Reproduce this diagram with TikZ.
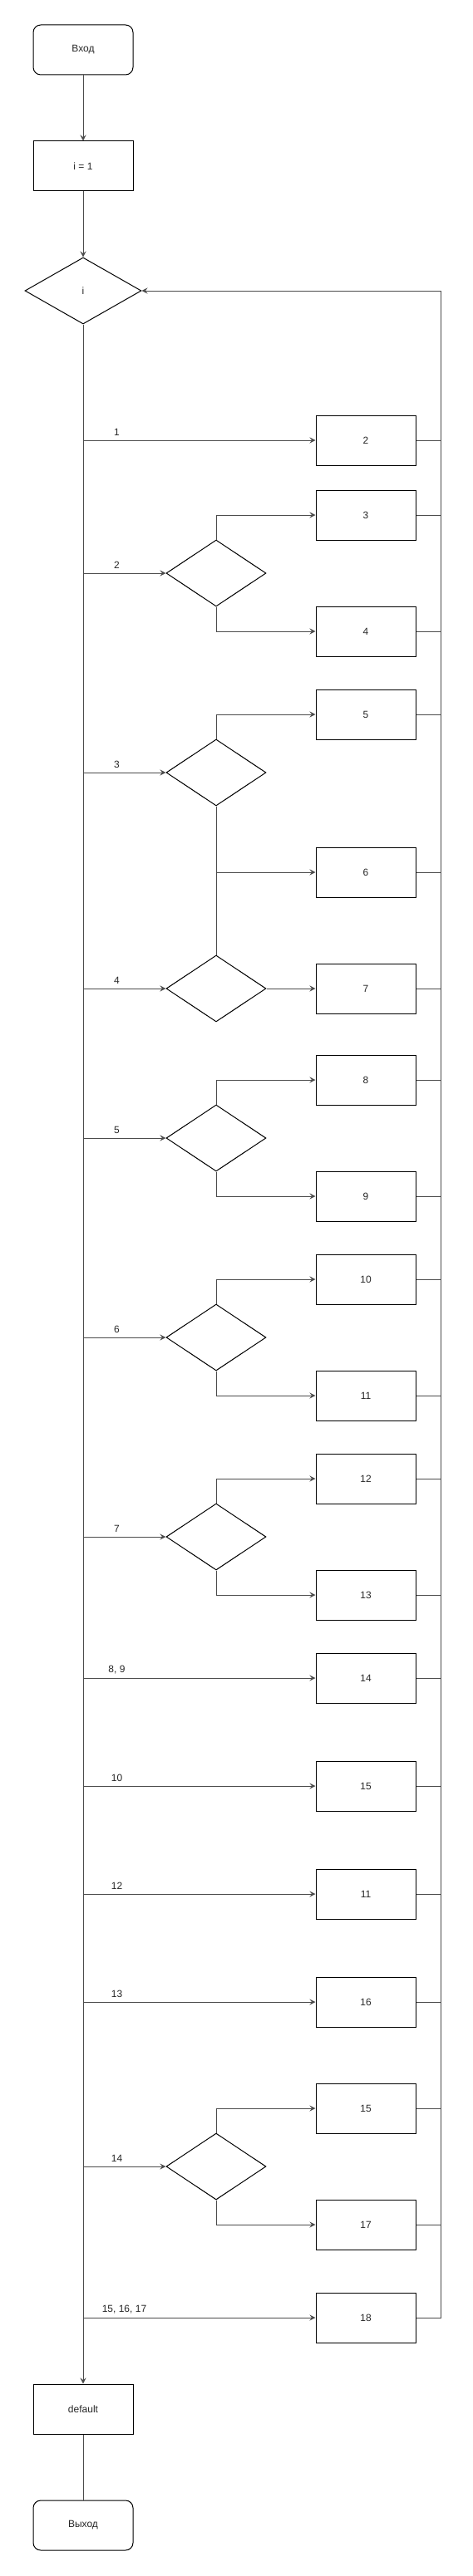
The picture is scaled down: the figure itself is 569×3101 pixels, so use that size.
\documentclass[tikz,border=0pt]{standalone}
\usepackage{fontspec}
\setmainfont{Liberation Sans}
\usetikzlibrary{arrows.meta,shapes.geometric}
\tikzset{
  txt/.style={font=\fontsize{12}{14}\selectfont, text=black!85},
  box/.style={txt, draw=black, line width=1pt, rectangle, minimum width=120pt, minimum height=60pt, inner sep=0pt},
  term/.style={box, rounded corners=9pt},
  dia/.style={txt, draw=black, line width=1pt, diamond, minimum width=120pt, minimum height=80pt, inner sep=0pt},
  edge/.style={line width=1pt, draw=black!70, -{Stealth[length=7pt,width=7pt,inset=2.5pt]}},
  link/.style={line width=1pt, draw=black!70},
  lbl/.style={txt, inner sep=0pt, anchor=center, yshift=10pt, xshift=40.5pt}
}
\begin{document}
\begin{tikzpicture}[x=1pt,y=-1pt]
\useasboundingbox (0,0) rectangle (569,3101);
% left column
\node[term] (in) at (100,60) {Вход};
\node[box] (i1) at (100,200) {i = 1};
\node[dia, minimum width=140pt] (d0) at (100,350) {i};
\node[box] (def) at (100,2900) {default};
\node[term] (out) at (100,3040) {Выход};
\coordinate (mx) at (100,0);
\coordinate (rx) at (530.5,0);
% right boxes
\node[box] (b2) at (440,530) {2};
\node[box] (b3) at (440,620) {3};
\node[box] (b4) at (440,760) {4};
\node[box] (b5) at (440,860) {5};
\node[box] (b6) at (440,1050) {6};
\node[box] (b7) at (440,1190) {7};
\node[box] (b8) at (440,1300) {8};
\node[box] (b9) at (440,1440) {9};
\node[box] (b10) at (440,1540) {10};
\node[box] (b11) at (440,1680) {11};
\node[box] (b12) at (440,1780) {12};
\node[box] (b13) at (440,1920) {13};
\node[box] (b14) at (440,2020) {14};
\node[box] (b15) at (440,2150) {15};
\node[box] (b11b) at (440,2280) {11};
\node[box] (b16) at (440,2410) {16};
\node[box] (b15b) at (440,2538) {15};
\node[box] (b17) at (440,2678) {17};
\node[box] (b18) at (440,2790) {18};
% diamonds
\node[dia] (d2) at (260,690) {};
\node[dia] (d3) at (260,930) {};
\node[dia] (d4) at (260,1190) {};
\node[dia] (d5) at (260,1370) {};
\node[dia] (d6) at (260,1610) {};
\node[dia] (d7) at (260,1850) {};
\node[dia] (d14) at (260,2608) {};
% main flow
\draw[edge] (in) -- (i1);
\draw[edge] (i1) -- (d0);
\draw[edge] (d0.south) -- (def.north);
\draw[link] (def.south) -- (out.north);
% branches from main line
\draw[edge] (mx |- b2.west) -- node[lbl, at start] {1} (b2.west);
\draw[edge] (mx |- d2.west) -- node[lbl, at start] {2} (d2.west);
\draw[edge] (mx |- d3.west) -- node[lbl, at start] {3} (d3.west);
\draw[edge] (mx |- d4.west) -- node[lbl, at start] {4} (d4.west);
\draw[edge] (mx |- d5.west) -- node[lbl, at start] {5} (d5.west);
\draw[edge] (mx |- d6.west) -- node[lbl, at start] {6} (d6.west);
\draw[edge] (mx |- d7.west) -- node[lbl, at start] {7} (d7.west);
\draw[edge] (mx |- b14.west) -- node[lbl, at start] {8, 9} (b14.west);
\draw[edge] (mx |- b15.west) -- node[lbl, at start] {10} (b15.west);
\draw[edge] (mx |- b11b.west) -- node[lbl, at start] {12} (b11b.west);
\draw[edge] (mx |- b16.west) -- node[lbl, at start] {13} (b16.west);
\draw[edge] (mx |- d14.west) -- node[lbl, at start] {14} (d14.west);
\draw[edge] (mx |- b18.west) -- node[lbl, at start, xshift=9pt] {15, 16, 17} (b18.west);
% diamond outputs
\draw[edge] (d2.north) |- (b3.west);
\draw[edge] (d2.south) |- (b4.west);
\draw[edge] (d3.north) |- (b5.west);
\draw[edge] (d3.south) |- (b6.west);
\draw[link] (d4.north) -- (d4.north |- b6.west);
\draw[edge] (d4.east) -- (b7.west);
\draw[edge] (d5.north) |- (b8.west);
\draw[edge] (d5.south) |- (b9.west);
\draw[edge] (d6.north) |- (b10.west);
\draw[edge] (d6.south) |- (b11.west);
\draw[edge] (d7.north) |- (b12.west);
\draw[edge] (d7.south) |- (b13.west);
\draw[edge] (d14.north) |- (b15b.west);
\draw[edge] (d14.south) |- (b17.west);
% returns
\foreach \b in {b2,b3,b4,b5,b6,b7,b8,b9,b10,b11,b12,b13,b14,b15,b11b,b16,b15b,b17}
  \draw[link] (\b.east) -- (\b.east -| rx);
\draw[edge] (b18.east) -- (b18.east -| rx) |- (d0.east);
\end{tikzpicture}
\end{document}
